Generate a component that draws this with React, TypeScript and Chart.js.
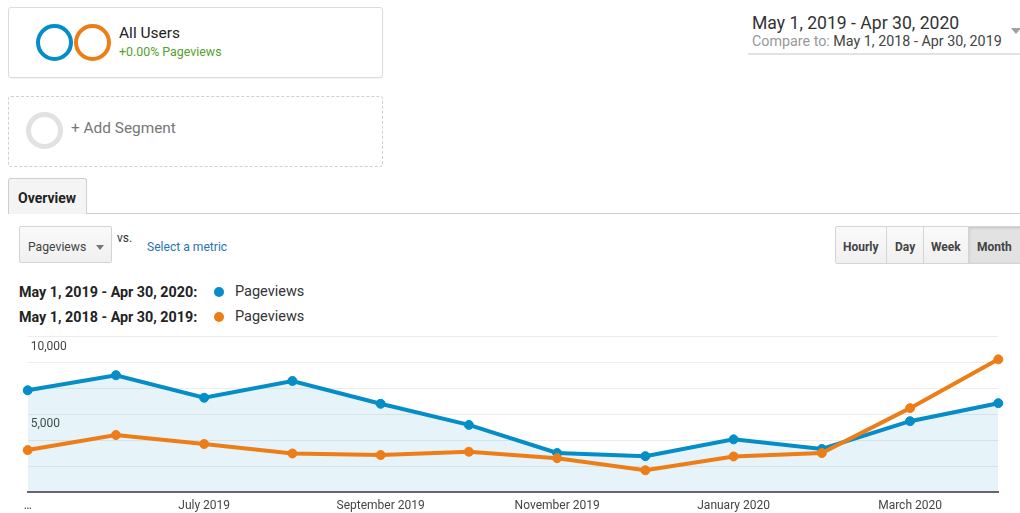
import React, { useEffect, useRef } from "react";
import { Chart, registerables } from "chart.js";

Chart.register(...registerables);

const months = [
  "May 2019", "June 2019", "July 2019", "August 2019", "September 2019", "October 2019",
  "November 2019", "December 2019", "January 2020", "February 2020", "March 2020", "April 2020",
];
const xTickLabels = [
  "…", "", "July 2019", "", "September 2019", "", "November 2019", "", "January 2020", "", "March 2020", "",
];
const pageviews2019 = [6550, 7520, 6070, 7150, 5680, 4320, 2510, 2310, 3390, 2770, 4560, 5720];
const pageviews2018 = [2700, 3670, 3090, 2480, 2380, 2590, 2180, 1400, 2290, 2510, 5400, 8540];
const yMax = 10000;
const yGridCount = 6;
const yLabelValues = [5000, 10000];
const yLabelTexts = ["5,000", "10,000"];

const BLUE = "#058dc7";
const ORANGE = "#ed7e17";
const FONT = "Roboto, Arial, sans-serif";

function T(props: { x: number; base: number; size: number; color?: string; bold?: boolean; children: React.ReactNode; style?: React.CSSProperties }) {
  const { x, base, size, color = "#333", bold = false, children, style } = props;
  return (
    <div
      style={{
        position: "absolute",
        left: x,
        top: base - 0.84 * size,
        fontSize: size,
        lineHeight: `${size}px`,
        color,
        fontWeight: bold ? 700 : 400,
        whiteSpace: "nowrap",
        fontFamily: FONT,
        ...style,
      }}
    >
      {children}
    </div>
  );
}

function Ring(props: { x: number; y: number; d: number; color: string; w: number }) {
  return (
    <div
      style={{
        position: "absolute",
        left: props.x,
        top: props.y,
        width: props.d,
        height: props.d,
        borderRadius: "50%",
        border: `${props.w}px solid ${props.color}`,
        boxSizing: "border-box",
      }}
    />
  );
}

function LineChart() {
  const ref = useRef<HTMLCanvasElement>(null);
  useEffect(() => {
    if (!ref.current) return;
    const chart = new Chart(ref.current, {
      type: "line",
      data: {
        labels: months,
        datasets: [
          {
            label: "May 1, 2019 - Apr 30, 2020: Pageviews",
            data: pageviews2019,
            borderColor: BLUE,
            backgroundColor: BLUE,
            borderWidth: 4,
            pointRadius: 4.5,
            pointBorderWidth: 1,
            pointBackgroundColor: BLUE,
            pointBorderColor: BLUE,
            tension: 0,
            fill: { target: "origin", above: "rgba(5,141,199,0.1)" },
            order: 1,
          },
          {
            label: "May 1, 2018 - Apr 30, 2019: Pageviews",
            data: pageviews2018,
            borderColor: ORANGE,
            backgroundColor: ORANGE,
            borderWidth: 4,
            pointRadius: 4.5,
            pointBorderWidth: 1,
            pointBackgroundColor: ORANGE,
            pointBorderColor: ORANGE,
            tension: 0,
            fill: false,
            order: 0,
          },
        ],
      },
      options: {
        responsive: false,
        animation: false,
        layout: { padding: { top: 6.7, right: 21.7, left: 27.7, bottom: 0 } },
        plugins: { legend: { display: false }, tooltip: { enabled: false } },
        scales: {
          x: {
            offset: false,
            grid: { display: false, drawTicks: false },
            border: { display: true, color: "#666", width: 2 },
            ticks: {
              autoSkip: false,
              maxRotation: 0,
              padding: 7,
              color: "#444",
              font: { family: FONT, size: 12 },
              callback: (_v: any, i: number) => xTickLabels[i],
            },
            afterFit: (s: any) => {
              s.height = 21;
              s.paddingLeft = 0;
              s.paddingRight = 0;
            },
          },
          y: {
            min: 0,
            max: yMax,
            grid: { color: "#ececec", lineWidth: 1, drawTicks: false },
            border: { display: false },
            ticks: {
              stepSize: yMax / yGridCount,
              mirror: true,
              padding: 3,
              labelOffset: 10,
              color: "#444",
              font: { family: FONT, size: 12 },
              callback: (v: any) => {
                const idx = yLabelValues.findIndex((t) => Math.abs(t - Number(v)) < 1);
                return idx >= 0 ? yLabelTexts[idx] : "";
              },
            },
            afterFit: (s: any) => {
              s.width = 0;
              s.paddingTop = 0;
              s.paddingBottom = 0;
            },
          },
        },
      },
    });
    return () => chart.destroy();
  }, []);
  return (
    <canvas
      ref={ref}
      width={1020}
      height={183}
      style={{ position: "absolute", left: 0, top: 330, width: 1020, height: 183 }}
    />
  );
}

export default function App() {
  return (
    <div
      style={{
        position: "absolute",
        left: 0,
        top: 0,
        width: 1020,
        height: 513,
        overflow: "hidden",
        background: "#fff",
        fontFamily: FONT,
      }}
    >
      {/* Segment box */}
      <div
        style={{
          position: "absolute",
          left: 8,
          top: 7,
          width: 375,
          height: 71,
          border: "1px solid #dcdcdc",
          borderRadius: 3,
          boxSizing: "border-box",
          boxShadow: "0 1px 1px rgba(0,0,0,0.05)",
        }}
      />
      <Ring x={36} y={24} d={37} color={BLUE} w={4.5} />
      <Ring x={73.5} y={24} d={37} color={ORANGE} w={4.5} />
      <T x={119} base={39.5} size={15.5} color="#222">All Users</T>
      <T x={119} base={56.7} size={12.4} color="#56a02c">+0.00% Pageviews</T>

      {/* Add segment */}
      <div
        style={{
          position: "absolute",
          left: 8,
          top: 96,
          width: 375,
          height: 71,
          border: "1px dashed #d0d0d0",
          borderRadius: 3,
          boxSizing: "border-box",
        }}
      />
      <Ring x={26} y={112} d={37} color="#e2e2e2" w={5} />
      <T x={71} base={133.5} size={15.4} color="#777">+ Add Segment</T>

      {/* Date range */}
      <T x={752} base={29.5} size={17.6} color="#333">May 1, 2019 - Apr 30, 2020</T>
      <T x={752} base={46} size={14.3} color="#999">
        Compare to: <span style={{ color: "#444" }}>May 1, 2018 - Apr 30, 2019</span>
      </T>
      <div style={{ position: "absolute", left: 748, top: 53, width: 272, height: 1.5, background: "#e2e2e2" }} />
      <div
        style={{
          position: "absolute",
          left: 1011,
          top: 28,
          width: 0,
          height: 0,
          borderLeft: "5px solid transparent",
          borderRight: "5px solid transparent",
          borderTop: "6px solid #a0a0a0",
        }}
      />

      {/* Tabs */}
      <div style={{ position: "absolute", left: 8, top: 213, width: 1012, height: 1, background: "#cfcfcf" }} />
      <div
        style={{
          position: "absolute",
          left: 8,
          top: 178,
          width: 79,
          height: 36,
          border: "1px solid #cfcfcf",
          borderBottom: "none",
          borderRadius: "3px 3px 0 0",
          background: "#f4f4f4",
          boxSizing: "border-box",
        }}
      />
      <T x={18} base={203} size={14} bold color="#222">Overview</T>

      {/* Metric selector */}
      <div
        style={{
          position: "absolute",
          left: 19,
          top: 226,
          width: 93,
          height: 37,
          border: "1px solid #d4d4d4",
          borderRadius: 2,
          background: "linear-gradient(#fafafa, #f0f0f0)",
          boxSizing: "border-box",
        }}
      />
      <T x={28} base={251} size={12.2} color="#444">Pageviews</T>
      <div
        style={{
          position: "absolute",
          left: 96,
          top: 245,
          width: 0,
          height: 0,
          borderLeft: "4px solid transparent",
          borderRight: "4px solid transparent",
          borderTop: "5px solid #777",
        }}
      />
      <T x={117} base={242} size={12} color="#333">vs.</T>
      <T x={147} base={251} size={12.1} color="#2a73b5">Select a metric</T>

      {/* Interval buttons */}
      <div
        style={{
          position: "absolute",
          left: 835,
          top: 226,
          width: 190,
          height: 38,
          border: "1px solid #d4d4d4",
          borderRadius: 2,
          background: "linear-gradient(#fafafa, #f0f0f0)",
          boxSizing: "border-box",
        }}
      />
      <div style={{ position: "absolute", left: 969, top: 227, width: 55, height: 36, background: "#e2e2e2", boxShadow: "inset 0 1px 3px rgba(0,0,0,0.15)" }} />
      <div style={{ position: "absolute", left: 886, top: 227, width: 1, height: 36, background: "#d4d4d4" }} />
      <div style={{ position: "absolute", left: 923, top: 227, width: 1, height: 36, background: "#d4d4d4" }} />
      <div style={{ position: "absolute", left: 968, top: 227, width: 1, height: 36, background: "#d4d4d4" }} />
      <T x={843} base={251} size={12} bold color="#444">Hourly</T>
      <T x={895} base={251} size={12} bold color="#444">Day</T>
      <T x={931} base={251} size={12} bold color="#444">Week</T>
      <T x={977} base={251} size={12} bold color="#444">Month</T>

      {/* Legend */}
      <T x={19} base={297.5} size={14.3} bold color="#222">May 1, 2019 - Apr 30, 2020:</T>
      <div style={{ position: "absolute", left: 213.5, top: 287, width: 10, height: 10, borderRadius: "50%", background: BLUE }} />
      <T x={235} base={297.5} size={14.5} color="#333">Pageviews</T>
      <T x={19} base={322.5} size={14.3} bold color="#222">May 1, 2018 - Apr 30, 2019:</T>
      <div style={{ position: "absolute", left: 213.5, top: 312, width: 10, height: 10, borderRadius: "50%", background: ORANGE }} />
      <T x={235} base={322.5} size={14.5} color="#333">Pageviews</T>

      <LineChart />
    </div>
  );
}
